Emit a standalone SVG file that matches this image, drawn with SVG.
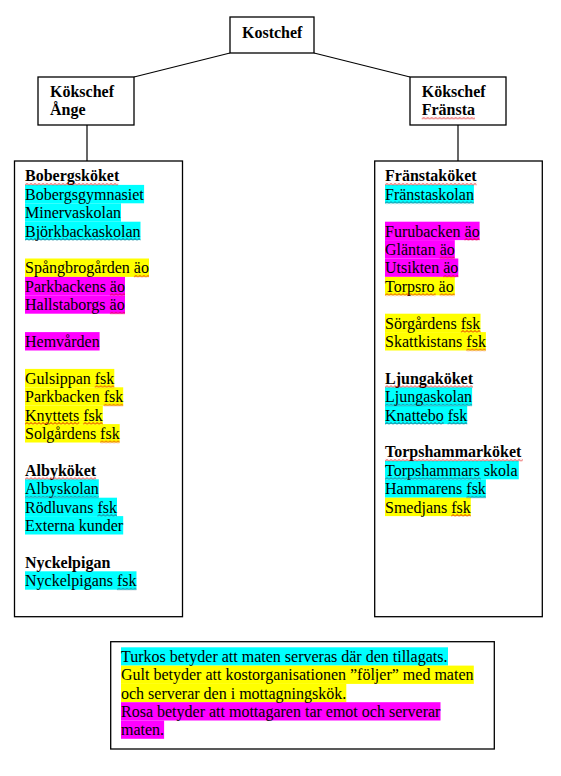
<svg xmlns="http://www.w3.org/2000/svg" width="561" height="776" viewBox="0 0 561 776">
<style>
text{font-family:"Liberation Serif","Times New Roman",serif;font-size:16px;fill:#000}
.b{font-weight:bold}
.box{fill:#fff;stroke:#000;stroke-width:1.3}
.conn{stroke:#000;stroke-width:1.2;fill:none}
.cy{fill:#00FFFF}
.ye{fill:#FFFF00}
.ma{fill:#FF00FF}
.sq{fill:url(#sqr)}
.sqd{fill:url(#sqd)}
</style>
<defs>
<pattern id="sqr" patternUnits="userSpaceOnUse" width="4" height="3"><polyline points="0,2.5 2,0.5 4,2.5" fill="none" stroke="#e00000" stroke-width="0.9"/></pattern>
<pattern id="sqd" patternUnits="userSpaceOnUse" width="4" height="3"><polyline points="0,2.5 2,0.5 4,2.5" fill="none" stroke="#2a4a6a" stroke-width="0.9"/></pattern>
</defs>
<rect width="561" height="776" fill="#fff"/>
<g id="connectors">
<line class="conn" x1="230" y1="53" x2="134" y2="77"/>
<line class="conn" x1="314" y1="53" x2="410" y2="77"/>
<line class="conn" x1="87" y1="125" x2="87" y2="161"/>
<line class="conn" x1="458" y1="125" x2="458" y2="161"/>
</g>
<g id="kostchef">
<rect class="box" x="230" y="17" width="84" height="36"/>
<text class="b" x="242" y="37.5">Kostchef</text>
</g>
<g id="kokschef-ange">
<rect class="box" x="38" y="77" width="96" height="48"/>
<text class="b" x="50" y="97.3">Kökschef</text>
<text class="b" x="50" y="115.3">Ånge</text>
</g>
<g id="kokschef-fransta">
<rect class="box" x="410" y="77" width="96" height="48"/>
<text class="b" x="421.7" y="97.3">Kökschef</text>
<text class="b" x="421.7" y="115.3">Fränsta</text>
<rect class="sq" transform="translate(421.7,116.8)" width="53.3" height="3"/>
</g>
<g id="ange-kok">
<rect class="box" x="14.5" y="161" width="168" height="455.7"/>
<rect class="cy" x="25" y="184.9" width="119.1" height="18.4"/>
<rect class="cy" x="25" y="203.3" width="96" height="18.4"/>
<rect class="cy" x="25" y="221.7" width="115.5" height="18.4"/>
<rect class="ye" x="25" y="258.5" width="124" height="18.4"/>
<rect class="ma" x="25" y="276.9" width="100" height="18.4"/>
<rect class="ma" x="25" y="295.3" width="100" height="18.4"/>
<rect class="ma" x="25" y="332.1" width="74.6" height="18.4"/>
<rect class="ye" x="25" y="368.9" width="89.3" height="18.4"/>
<rect class="ye" x="25" y="387.3" width="98.2" height="18.4"/>
<rect class="ye" x="25" y="405.7" width="77.8" height="18.4"/>
<rect class="ye" x="25" y="424.1" width="94.7" height="18.4"/>
<rect class="cy" x="25" y="479.3" width="73.8" height="18.4"/>
<rect class="cy" x="25" y="497.7" width="92" height="18.4"/>
<rect class="cy" x="25" y="516.1" width="98.2" height="18.4"/>
<rect class="cy" x="25" y="571.3" width="111.5" height="18.4"/>
<text class="b" x="25" y="181.3">Bobergsköket</text>
<text x="25" y="199.7">Bobergsgymnasiet</text>
<text x="25" y="218.1">Minervaskolan</text>
<text x="25" y="236.5">Björkbackaskolan</text>
<text x="25" y="273.3">Spångbrogården äo</text>
<text x="25" y="291.7">Parkbackens äo</text>
<text x="25" y="310.1">Hallstaborgs äo</text>
<text x="25" y="346.9">Hemvården</text>
<text x="25" y="383.7">Gulsippan fsk</text>
<text x="25" y="402.1">Parkbacken fsk</text>
<text x="25" y="420.5">Knyttets fsk</text>
<text x="25" y="438.9">Solgårdens fsk</text>
<text class="b" x="25" y="475.7">Albyköket</text>
<text x="25" y="494.1">Albyskolan</text>
<text x="25" y="512.5">Rödluvans fsk</text>
<text x="25" y="530.9">Externa kunder</text>
<text class="b" x="25" y="567.7">Nyckelpigan</text>
<text x="25" y="586.1">Nyckelpigans fsk</text>
<rect class="sq" transform="translate(25,182.8)" width="93.2" height="3"/>
<rect class="sqd" transform="translate(25,238)" width="115.5" height="3"/>
<rect class="sq" transform="translate(133.9,274.8)" width="15.1" height="3"/>
<rect class="sq" transform="translate(109.9,293.2)" width="15.1" height="3"/>
<rect class="sq" transform="translate(109.9,311.6)" width="15.1" height="3"/>
<rect class="sq" transform="translate(94.7,385.2)" width="19.6" height="3"/>
<rect class="sq" transform="translate(103.6,403.6)" width="19.6" height="3"/>
<rect class="sq" transform="translate(25,422)" width="54.2" height="3"/>
<rect class="sq" transform="translate(83.2,422)" width="19.6" height="3"/>
<rect class="sq" transform="translate(100.1,440.4)" width="19.6" height="3"/>
<rect class="sq" transform="translate(25,477.2)" width="71.1" height="3"/>
<rect class="sqd" transform="translate(25,495.6)" width="73.8" height="3"/>
<rect class="sqd" transform="translate(97.4,514)" width="19.6" height="3"/>
<rect class="sqd" transform="translate(116.9,587.6)" width="19.6" height="3"/>
</g>
<g id="fransta-kok">
<rect class="box" x="374.7" y="161" width="167.6" height="455.7"/>
<rect class="cy" x="385" y="184.9" width="88.9" height="18.4"/>
<rect class="ma" x="385" y="221.7" width="94.6" height="18.4"/>
<rect class="ma" x="385" y="240.1" width="69.8" height="18.4"/>
<rect class="ma" x="385" y="258.5" width="73.3" height="18.4"/>
<rect class="ye" x="385" y="276.9" width="69.8" height="18.4"/>
<rect class="ye" x="385" y="313.7" width="95.5" height="18.4"/>
<rect class="ye" x="385" y="332.1" width="100.9" height="18.4"/>
<rect class="cy" x="385" y="387.3" width="87.1" height="18.4"/>
<rect class="cy" x="385" y="405.7" width="82.2" height="18.4"/>
<rect class="cy" x="385" y="460.9" width="133.8" height="18.4"/>
<rect class="cy" x="385" y="479.3" width="100.9" height="18.4"/>
<rect class="ye" x="385" y="497.7" width="85.8" height="18.4"/>
<text class="b" x="385" y="181.3">Fränstaköket</text>
<text x="385" y="199.7">Fränstaskolan</text>
<text x="385" y="236.5">Furubacken äo</text>
<text x="385" y="254.9">Gläntan äo</text>
<text x="385" y="273.3">Utsikten äo</text>
<text x="385" y="291.7">Torpsro äo</text>
<text x="385" y="328.5">Sörgårdens fsk</text>
<text x="385" y="346.9">Skattkistans fsk</text>
<text class="b" x="385" y="383.7">Ljungaköket</text>
<text x="385" y="402.1">Ljungaskolan</text>
<text x="385" y="420.5">Knattebo fsk</text>
<text class="b" x="385" y="457.3">Torpshammarköket</text>
<text x="385" y="475.7">Torpshammars skola</text>
<text x="385" y="494.1">Hammarens fsk</text>
<text x="385" y="512.5">Smedjans fsk</text>
<rect class="sq" transform="translate(385,182.8)" width="91.6" height="3"/>
<rect class="sqd" transform="translate(385,201.2)" width="88.9" height="3"/>
<rect class="sq" transform="translate(464.5,238)" width="15.1" height="3"/>
<rect class="sq" transform="translate(439.7,256.4)" width="15.1" height="3"/>
<rect class="sq" transform="translate(443.2,274.8)" width="15.1" height="3"/>
<rect class="sq" transform="translate(385,293.2)" width="50.7" height="3"/>
<rect class="sq" transform="translate(439.7,293.2)" width="15.1" height="3"/>
<rect class="sq" transform="translate(460.9,330)" width="19.6" height="3"/>
<rect class="sq" transform="translate(466.3,348.4)" width="19.6" height="3"/>
<rect class="sq" transform="translate(385,385.2)" width="88" height="3"/>
<rect class="sqd" transform="translate(385,403.6)" width="87.1" height="3"/>
<rect class="sqd" transform="translate(385,422)" width="58.7" height="3"/>
<rect class="sqd" transform="translate(447.6,422)" width="19.6" height="3"/>
<rect class="sq" transform="translate(385,458.8)" width="137.8" height="3"/>
<rect class="sqd" transform="translate(385,477.2)" width="96" height="3"/>
<rect class="sqd" transform="translate(466.3,495.6)" width="19.6" height="3"/>
<rect class="sq" transform="translate(451.2,514)" width="19.6" height="3"/>
</g>
<g id="legend">
<rect class="box" x="110.7" y="641.7" width="383.6" height="107.3"/>
<rect class="cy" x="121" y="647.3" width="327" height="18.3"/>
<rect class="ye" x="121" y="665.6" width="352.8" height="18.3"/>
<rect class="ye" x="121" y="683.9" width="225.3" height="18.3"/>
<rect class="ma" x="121" y="702.2" width="319.5" height="18.3"/>
<rect class="ma" x="121" y="720.5" width="43.1" height="18.3"/>
<text x="121" y="662.1">Turkos betyder att maten serveras där den tillagats.</text>
<text x="121" y="680.4">Gult betyder att kostorganisationen ”följer” med maten</text>
<text x="121" y="698.7">och serverar den i mottagningskök.</text>
<text x="121" y="717">Rosa betyder att mottagaren tar emot och serverar</text>
<text x="121" y="735.3">maten.</text>
</g>
</svg>
